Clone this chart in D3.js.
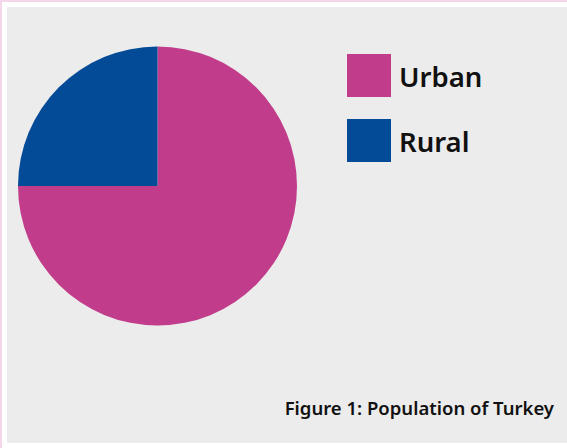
<!DOCTYPE html>
<html><head><meta charset="utf-8">
<script src="https://cdn.jsdelivr.net/npm/d3@7"></script>
<style>html,body{margin:0;padding:0;background:#fff;}svg{display:block;}</style>
</head><body>
<script>
const categories = ["Urban", "Rural"];
const values = [75, 25];
const colors = ["#c13d8c", "#034b97"];
const caption = "Figure 1: Population of Turkey";

const W = 567, H = 448;
const svg = d3.select("body").append("svg").attr("width", W).attr("height", H);
svg.append("rect").attr("x",0).attr("y",0).attr("width",W).attr("height",H).attr("fill","#fff");
svg.append("rect").attr("x",0).attr("y",0).attr("width",2).attr("height",H).attr("fill","#f3d6ea");
svg.append("rect").attr("x",0).attr("y",0).attr("width",W).attr("height",2).attr("fill","#f3d6ea");
svg.append("rect").attr("x",7).attr("y",7).attr("width",W-7).attr("height",436).attr("fill","#ececec");

const color = d3.scaleOrdinal().domain(categories).range(colors);
const data = categories.map((c,i)=>({cat:c, value:values[i]}));
const pie = d3.pie().value(d=>d.value).sort(null);
const arc = d3.arc().innerRadius(0).outerRadius(139.5);
svg.append("g").attr("transform","translate(157.5,186)")
  .selectAll("path").data(pie(data)).join("path")
  .attr("d", arc).attr("fill", d=>color(d.data.cat));

const leg = svg.append("g");
const ly = d3.scalePoint().domain(categories).range([54,119]);
leg.selectAll("rect").data(categories).join("rect")
  .attr("x",347).attr("y",d=>ly(d)).attr("width",44).attr("height",43)
  .attr("fill",d=>color(d));
leg.selectAll("text").data(categories).join("text")
  .attr("x",399).attr("y",d=>ly(d)+33)
  .attr("font-family","'Noto Sans', sans-serif").attr("font-weight",600)
  .attr("font-size",27.5).attr("fill","#111").text(d=>d);

svg.append("text").attr("x",554).attr("y",415).attr("text-anchor","end")
  .attr("font-family","'Noto Sans', sans-serif").attr("font-weight",600)
  .attr("font-size",18.5).attr("fill","#111").text(caption);
</script>
</body></html>
